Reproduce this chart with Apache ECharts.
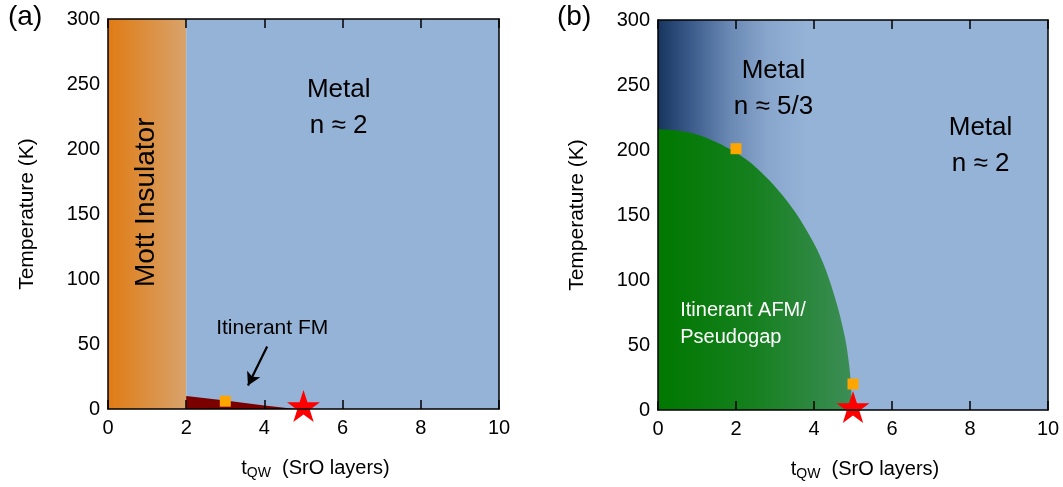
<!DOCTYPE html>
<html>
<head>
<meta charset="utf-8">
<script src="https://cdn.jsdelivr.net/npm/echarts@6/dist/echarts.min.js"></script>
<style>
  html, body { margin: 0; padding: 0; background: #fff; }
  #chart { width: 1063px; height: 487px; }
</style>
</head>
<body>
<div id="chart"></div>
<script>
// ---- data (x: SrO layers, y: temperature in K) ----
const xRange = [0, 10];
const tRange = [0, 300];
const mottRange = [0, 2];                 // Mott insulator, panel (a)
const metalRangeA = [2, 10];              // metal n ≈ 2, panel (a)
const fmBoundary = [[2, 10], [3, 6.5], [4, 2.6], [4.8, 0]];   // itinerant FM wedge
const fmPoints = [[3, 6]];
const afmBoundary = [[0, 216], [0.5, 215], [1, 212], [1.5, 206], [2, 198], [2.5, 187],
  [3, 172], [3.5, 153], [4, 128], [4.3, 108], [4.6, 80], [4.8, 55], [4.9, 35], [4.95, 18], [4.97, 0]];
const afmPoints = [[2, 201], [5, 20]];
const criticalPoints = [[5, 0]];

const FONT = '"Liberation Sans", Arial, sans-serif';
const STAR = 'path://M50,0 L61.8,35.3 L99,35.3 L68.8,57.1 L80.3,92.7 L50,70.9 L19.7,92.7 L31.2,57.1 L1,35.3 L38.2,35.3 Z';
const BLUE = '#95B3D7';

function grad(stops) {
  return new echarts.graphic.LinearGradient(0, 0, 1, 0,
    stops.map(([offset, color]) => ({ offset, color })));
}

function bottomAxis(gi) {
  return {
    type: 'value', gridIndex: gi, min: xRange[0], max: xRange[1], interval: 2,
    position: 'bottom', z: 20,
    axisLine: { show: true, onZero: false, lineStyle: { color: '#000', width: 1.5 } },
    axisTick: { show: true, inside: true, length: 9, lineStyle: { color: '#000', width: 1.5 } },
    axisLabel: { color: '#000', fontSize: 20, fontFamily: FONT, margin: 9 },
    splitLine: { show: false },
    name: '{t|t}{s|QW}{t|  (SrO layers)}',
    nameLocation: 'middle', nameGap: 46, nameMoveOverlap: false,
    nameTextStyle: {
      padding: [0, 0, 0, 24],
      rich: {
        t: { fontSize: 20, fontFamily: FONT, color: '#000', lineHeight: 26 },
        s: { fontSize: 14, fontFamily: FONT, color: '#000', lineHeight: 26, padding: [10, 0, 0, 0] }
      }
    }
  };
}
function topAxis(gi) {
  return {
    type: 'value', gridIndex: gi, min: xRange[0], max: xRange[1], interval: 2,
    position: 'top', z: 20,
    axisLine: { show: true, onZero: false, lineStyle: { color: '#000', width: 1.5 } },
    axisTick: { show: true, inside: true, length: 9, lineStyle: { color: '#000', width: 1.5 } },
    axisLabel: { show: false },
    splitLine: { show: false }
  };
}
function leftAxis(gi) {
  return {
    type: 'value', gridIndex: gi, min: tRange[0], max: tRange[1], interval: 50,
    position: 'left', z: 20,
    axisLine: { show: true, onZero: false, lineStyle: { color: '#000', width: 1.5 } },
    axisTick: { show: false },
    axisLabel: { color: '#000', fontSize: 20, fontFamily: FONT, margin: 8 },
    splitLine: { show: false },
    name: 'Temperature (K)', nameLocation: 'middle', nameGap: 70,
    nameTextStyle: { fontSize: 21, fontFamily: FONT, color: '#000' }
  };
}
function rightAxis(gi) {
  return {
    type: 'value', gridIndex: gi, min: tRange[0], max: tRange[1], interval: 50,
    position: 'right', z: 20,
    axisLine: { show: true, onZero: false, lineStyle: { color: '#000', width: 1.5 } },
    axisTick: { show: false }, axisLabel: { show: false }, splitLine: { show: false }
  };
}

function textLabel(xi, yi, coord, text, opts) {
  return {
    type: 'scatter', xAxisIndex: xi, yAxisIndex: yi, z: 10, silent: true,
    symbolSize: 0, data: [coord], itemStyle: { opacity: 1 },
    label: Object.assign({
      show: true, position: 'inside', formatter: text, opacity: 1,
      fontFamily: FONT, color: '#000', fontSize: 26, lineHeight: 36, align: 'center'
    }, opts || {})
  };
}

const option = {
  animation: false,
  backgroundColor: '#fff',
  grid: [
    { left: 108, top: 19, right: 564, bottom: 78 },
    { left: 658, top: 20, right: 15, bottom: 77 }
  ],
  xAxis: [bottomAxis(0), topAxis(0), bottomAxis(1), topAxis(1)],
  yAxis: [leftAxis(0), rightAxis(0), leftAxis(1), rightAxis(1)],
  graphic: [
    { type: 'text', left: 8, top: 3, style: { text: '(a)', fontSize: 28, fontFamily: FONT, fill: '#000' } },
    { type: 'text', left: 557, top: 3, style: { text: '(b)', fontSize: 28, fontFamily: FONT, fill: '#000' } }
  ],
  series: [
    // ---------- panel (a) ----------
    {
      type: 'line', xAxisIndex: 0, yAxisIndex: 0, z: 1, data: [], silent: true,
      markArea: {
        silent: true,
        data: [
          [{ coord: [mottRange[0], tRange[0]], itemStyle: { color: grad([[0, '#E07B14'], [1, '#D8A36C']]) } },
           { coord: [mottRange[1], tRange[1]] }],
          [{ coord: [metalRangeA[0], tRange[0]], itemStyle: { color: BLUE } },
           { coord: [metalRangeA[1], tRange[1]] }]
        ]
      }
    },
    {
      type: 'line', xAxisIndex: 0, yAxisIndex: 0, z: 3, silent: true,
      data: fmBoundary, symbol: 'none',
      lineStyle: { width: 0 },
      areaStyle: { color: '#7A0000', opacity: 1 },
      markLine: {
        silent: true, symbol: ['none', 'arrow'], symbolSize: [11, 13],
        lineStyle: { color: '#000', width: 2.2, type: 'solid' },
        label: { show: false },
        data: [[{ coord: [4.07, 48] }, { coord: [3.58, 18] }]]
      }
    },
    {
      type: 'scatter', xAxisIndex: 0, yAxisIndex: 0, z: 5, data: fmPoints,
      symbol: 'rect', symbolSize: 11, itemStyle: { color: '#FFA500', opacity: 1 }
    },
    {
      type: 'scatter', xAxisIndex: 0, yAxisIndex: 0, z: 6, data: criticalPoints,
      symbol: STAR, symbolSize: [33, 32], symbolOffset: [0, -3], itemStyle: { color: '#FF0000', opacity: 1 }
    },
    textLabel(0, 0, [5.9, 232], 'Metal\nn ≈ 2'),
    textLabel(0, 0, [0.98, 159], 'Mott Insulator', { rotate: 90, fontSize: 28 }),
    textLabel(0, 0, [4.2, 62], 'Itinerant FM', { fontSize: 21, lineHeight: 26 }),

    // ---------- panel (b) ----------
    {
      type: 'line', xAxisIndex: 2, yAxisIndex: 2, z: 1, data: [], silent: true,
      markArea: {
        silent: true,
        data: [
          [{ coord: [xRange[0], tRange[0]], itemStyle: { color: grad([
              [0, '#17355E'], [0.08, '#39598a'], [0.18, '#6887b2'], [0.28, '#88a6cc'], [0.38, BLUE], [1, BLUE]]) } },
           { coord: [xRange[1], tRange[1]] }]
        ]
      }
    },
    {
      type: 'line', xAxisIndex: 2, yAxisIndex: 2, z: 3, silent: true,
      data: afmBoundary, symbol: 'none', smooth: 0.3,
      lineStyle: { width: 0 },
      areaStyle: { opacity: 1, color: grad([[0, '#007800'], [0.5, '#16801f'], [1, '#3C8D56']]) }
    },
    {
      type: 'scatter', xAxisIndex: 2, yAxisIndex: 2, z: 5, data: afmPoints,
      symbol: 'rect', symbolSize: 11, itemStyle: { color: '#FFA500', opacity: 1 }
    },
    {
      type: 'scatter', xAxisIndex: 2, yAxisIndex: 2, z: 6, data: criticalPoints,
      symbol: STAR, symbolSize: [33, 32], symbolOffset: [0, -3], itemStyle: { color: '#FF0000', opacity: 1 }
    },
    textLabel(2, 2, [2.96, 247], 'Metal\nn ≈ 5/3'),
    textLabel(2, 2, [8.27, 203], 'Metal\nn ≈ 2'),
    textLabel(2, 2, [0.57, 66], 'Itinerant AFM/\nPseudogap',
      { fontSize: 20, lineHeight: 27, color: '#fff', align: 'left' })
  ]
};

const chart = echarts.init(document.getElementById('chart'), null, { renderer: 'canvas' });
chart.setOption(option);
</script>
</body>
</html>
